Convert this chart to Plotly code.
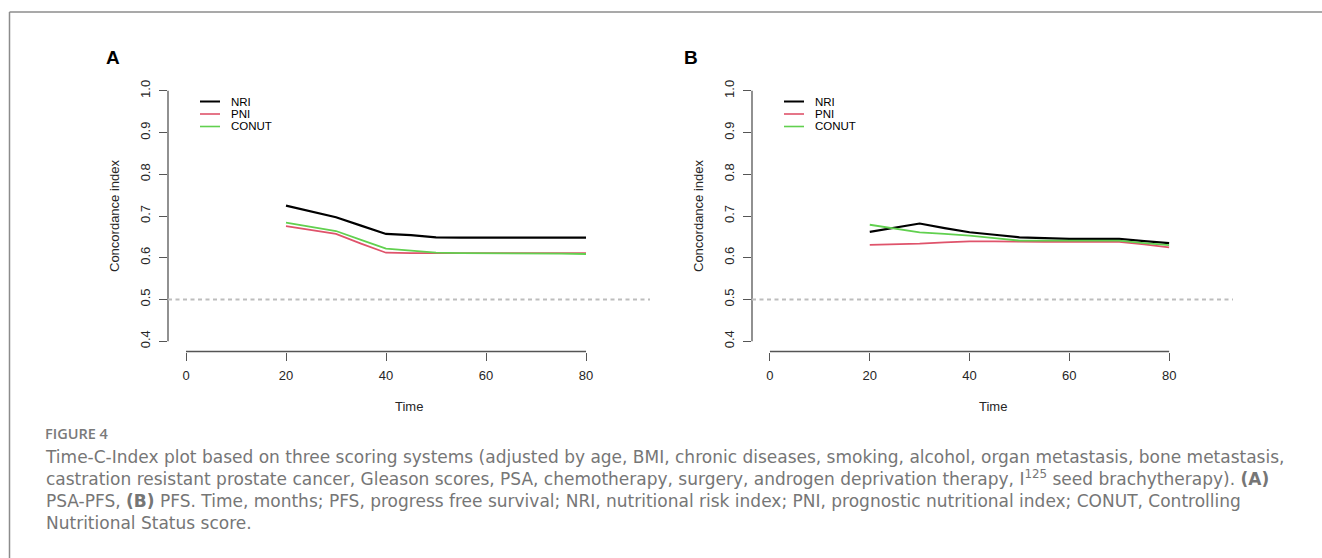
import plotly.graph_objects as go

W, H = 1322, 558

# ---------------- data ----------------
time_pts = [20, 25, 30, 35, 40, 45, 50, 55, 60, 65, 70, 75, 80]

a_nri   = [0.725, 0.711, 0.697, 0.677, 0.657, 0.654, 0.649, 0.648, 0.648, 0.648, 0.648, 0.648, 0.648]
a_pni   = [0.676, 0.667, 0.657, 0.634, 0.612, 0.611, 0.611, 0.611, 0.611, 0.611, 0.611, 0.611, 0.611]
a_conut = [0.684, 0.674, 0.664, 0.643, 0.622, 0.617, 0.612, 0.611, 0.611, 0.611, 0.611, 0.610, 0.609]

b_nri   = [0.662, 0.672, 0.682, 0.671, 0.661, 0.655, 0.649, 0.647, 0.645, 0.645, 0.645, 0.640, 0.635]
b_pni   = [0.631, 0.632, 0.634, 0.637, 0.639, 0.639, 0.638, 0.638, 0.638, 0.638, 0.638, 0.632, 0.625]
b_conut = [0.679, 0.670, 0.661, 0.657, 0.653, 0.647, 0.641, 0.641, 0.641, 0.641, 0.641, 0.635, 0.630]

series_names = ["NRI", "PNI", "CONUT"]
series_colors = ["#000000", "#DF536B", "#61D04F"]
x_ticks = [0, 20, 40, 60, 80]
y_ticks = [0.4, 0.5, 0.6, 0.7, 0.8, 0.9, 1.0]
y_ticktext = ["0.4", "0.5", "0.6", "0.7", "0.8", "0.9", "1.0"]
ref_level = 0.5
panel_labels = ["A", "B"]

caption_title = "FIGURE 4"
caption_lines = [
    "Time-C-Index plot based on three scoring systems (adjusted by age, BMI, chronic diseases, smoking, alcohol, organ metastasis, bone metastasis,",
    "castration resistant prostate cancer, Gleason scores, PSA, chemotherapy, surgery, androgen deprivation therapy, I<sup>125</sup> seed brachytherapy). <b>(A)</b>",
    "PSA-PFS, <b>(B)</b> PFS. Time, months; PFS, progress free survival; NRI, nutritional risk index; PNI, prognostic nutritional index; CONUT, Controlling",
    "Nutritional Status score.",
]

# ---------------- helpers ----------------
def px(x):
    return x / W

def py(y):
    return (H - y) / H

AXIS_COL = "#555555"
TXT_COL = "#262626"
TICK_FONT = dict(family="Liberation Sans, Arial, sans-serif", size=13, color=TXT_COL)

fig = go.Figure()

panels = [
    dict(xa="x", ya="y", data=[a_nri, a_pni, a_conut], left=168, right=650),
    dict(xa="x2", ya="y2", data=[b_nri, b_pni, b_conut], left=752, right=1233),
]
top_px, bot_px = 80.5, 351.5

for p in panels:
    for name, col, vals in zip(series_names, series_colors, p["data"]):
        fig.add_trace(go.Scatter(
            x=time_pts, y=vals, mode="lines", name=name,
            line=dict(color=col, width=2.2 if col == "#000000" else 1.8),
            xaxis=p["xa"], yaxis=p["ya"], showlegend=False,
        ))

layout_axes = {}
for i, p in enumerate(panels):
    sx = "" if i == 0 else str(i + 1)
    layout_axes["xaxis" + sx] = dict(
        domain=[px(p["left"]), px(p["right"])], range=[-3.6, 92.8],
        anchor="y" + sx, tickvals=x_ticks, ticks="outside", ticklen=8,
        tickwidth=1.3, tickcolor=AXIS_COL, showline=False, showgrid=False,
        zeroline=False, tickfont=TICK_FONT, ticklabelstandoff=4,
    )
    layout_axes["yaxis" + sx] = dict(
        domain=[py(bot_px), py(top_px)], range=[0.3753, 1.0247],
        anchor="x" + sx, tickvals=y_ticks, ticktext=y_ticktext, tickangle=-90,
        ticks="outside", ticklen=8, tickwidth=1.3, tickcolor=AXIS_COL,
        showline=False, showgrid=False, zeroline=False, tickfont=TICK_FONT,
        ticklabelstandoff=4,
    )

shapes = []
annotations = []
for i, p in enumerate(panels):
    sx = "" if i == 0 else str(i + 1)
    # R-style axis lines (span first to last tick)
    shapes.append(dict(type="line", xref="x" + sx, yref="y" + sx + " domain",
                       x0=x_ticks[0], x1=x_ticks[-1], y0=0, y1=0,
                       line=dict(color=AXIS_COL, width=1.3)))
    shapes.append(dict(type="line", xref="x" + sx + " domain", yref="y" + sx,
                       x0=0, x1=0, y0=y_ticks[0], y1=y_ticks[-1],
                       line=dict(color=AXIS_COL, width=1.3)))
    # reference line at 0.5
    shapes.append(dict(type="line", xref="x" + sx + " domain", yref="y" + sx,
                       x0=0, x1=1, y0=ref_level, y1=ref_level,
                       line=dict(color="#bdbdbd", width=2, dash="4px,3.5px")))
    # manual legend (tight R-style spacing)
    L = p["left"]
    for k, (name, col) in enumerate(zip(series_names, series_colors)):
        yy = 101.5 + 12.5 * k
        shapes.append(dict(type="line", xref="paper", yref="paper",
                           x0=px(L + 32), x1=px(L + 52), y0=py(yy), y1=py(yy),
                           line=dict(color=col, width=2 if k == 0 else 1.6)))
        annotations.append(dict(text=name, xref="paper", yref="paper",
                                x=px(L + 61), y=py(yy), xanchor="left", yanchor="middle",
                                height=12, valign="middle",
                                showarrow=False,
                                font=dict(family="Liberation Sans Narrow, Liberation Sans, Arial", size=11.5, color="#000000")))
    # axis titles
    annotations.append(dict(text="Time", xref="paper", yref="paper",
                            x=px((p["left"] + p["right"]) / 2), y=py(407), xanchor="center", yanchor="middle",
                            showarrow=False, font=TICK_FONT))
    annotations.append(dict(text="Concordance index", xref="paper", yref="paper",
                            x=px(L - 54), y=py((top_px + bot_px) / 2), xanchor="center", yanchor="middle",
                            textangle=-90, showarrow=False, font=TICK_FONT))

# panel labels
for lab, xc in zip(panel_labels, [113, 690.5]):
    annotations.append(dict(text="<b>" + lab + "</b>", xref="paper", yref="paper",
                            x=px(xc), y=py(57.5), xanchor="center", yanchor="middle", showarrow=False,
                            font=dict(family="Liberation Sans, Arial", size=19, color="#000000")))

# card border (top + left)
shapes.append(dict(type="line", xref="paper", yref="paper", x0=px(9.5), x1=1, y0=py(12), y1=py(12),
                   line=dict(color="#8c8c8c", width=1.5)))
shapes.append(dict(type="line", xref="paper", yref="paper", x0=px(9.5), x1=px(9.5), y0=0, y1=py(12),
                   line=dict(color="#8c8c8c", width=1.5)))

# caption
annotations.append(dict(text=caption_title, xref="paper", yref="paper", x=px(43), y=py(433),
                        xanchor="left", yanchor="middle", showarrow=False,
                        font=dict(family="Open Sans", size=14.5, color="#7a7a7a", weight=600)))
annotations.append(dict(text="<br>".join(caption_lines), xref="paper", yref="paper",
                        x=px(43), y=py(490), xanchor="left", yanchor="middle", align="left",
                        showarrow=False,
                        font=dict(family="DejaVu Sans", size=17, color="#767676")))

fig.update_layout(
    width=W, height=H, margin=dict(l=0, r=0, t=0, b=0),
    paper_bgcolor="white", plot_bgcolor="white",
    showlegend=False, shapes=shapes, annotations=annotations,
    **layout_axes,
)

fig.write_html("out.html")
